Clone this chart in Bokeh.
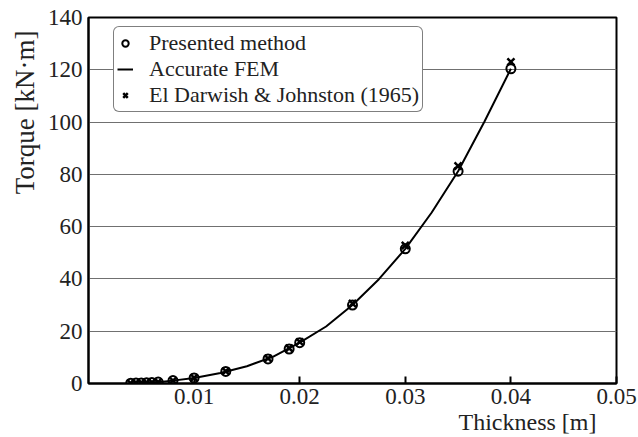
from bokeh.plotting import figure
from bokeh.models import Range1d, FixedTicker, Legend, LegendItem, Title
from bokeh.embed import file_html
from bokeh.resources import INLINE

# Data
thickness = [0.004, 0.0045, 0.005, 0.0055, 0.006, 0.0066, 0.008, 0.010,
             0.013, 0.017, 0.019, 0.020, 0.025, 0.030, 0.035, 0.040]
torque_presented = [0.12, 0.17, 0.23, 0.31, 0.40, 0.55, 1.1, 2.1,
                    4.6, 9.4, 13.2, 15.6, 30.0, 51.5, 81.2, 120.4]
torque_darwish = [0.12, 0.17, 0.23, 0.31, 0.41, 0.56, 1.1, 2.2,
                  4.7, 9.6, 13.5, 15.9, 30.6, 52.8, 83.2, 123.0]

fem_thickness = [0.004, 0.005, 0.006, 0.007, 0.008, 0.010, 0.0125, 0.015,
                 0.0175, 0.020, 0.0225, 0.025, 0.0275, 0.030, 0.0325,
                 0.035, 0.0375, 0.040]
fem_torque = [0.12, 0.23, 0.40, 0.70, 1.1, 2.1, 4.0, 6.6,
              10.3, 15.6, 21.8, 30.0, 39.9, 51.5, 65.4, 81.2, 100.2, 120.4]

x_ticks = [0.01, 0.02, 0.03, 0.04, 0.05]
y_ticks = [0, 20, 40, 60, 80, 100, 120, 140]

x_title = "Thickness [m]"
y_title = "Torque [kN·m]"
series_names = ["Presented method", "Accurate FEM", "El Darwish & Johnston (1965)"]

FONT = "Liberation Serif"
TXT = "#222222"

p = figure(width=638, height=437, output_backend="svg", toolbar_location=None,
           x_range=Range1d(0, 0.05), y_range=Range1d(0, 140),
           min_border_left=88, min_border_right=22, min_border_top=17,
           min_border_bottom=54)

p.background_fill_color = "white"
p.border_fill_color = "white"
p.outline_line_color = "black"
p.outline_line_width = 2

# grid
p.xgrid.grid_line_color = None
p.ygrid.grid_line_color = "#707070"
p.ygrid.grid_line_width = 1
p.ygrid.ticker = FixedTicker(ticks=y_ticks)

# axes
p.xaxis.ticker = FixedTicker(ticks=x_ticks)
p.yaxis.ticker = FixedTicker(ticks=y_ticks)
p.xaxis.major_label_overrides = {t: f"{t:.2f}" for t in x_ticks}
for ax in (p.xaxis[0], p.yaxis[0]):
    ax.axis_line_color = "black"
    ax.axis_line_width = 2
    ax.minor_tick_line_color = None
    ax.major_label_text_font = FONT
    ax.major_label_text_font_size = "23px"
    ax.major_label_text_color = TXT

p.xaxis.major_tick_in = 7
p.xaxis.major_tick_out = 0
p.xaxis.major_tick_line_width = 2
p.xaxis.major_label_standoff = 5
p.yaxis.major_tick_in = 0
p.yaxis.major_tick_out = 0
p.yaxis.major_label_standoff = 6

# axis titles aligned towards the far ends, as in the reference
p.add_layout(Title(text=x_title, align="right", offset=20, standoff=0,
                   text_font=FONT, text_font_size="24px",
                   text_font_style="normal", text_color=TXT), "below")
p.add_layout(Title(text=y_title, align="right", offset=13, standoff=10,
                   text_font=FONT, text_font_size="27px",
                   text_font_style="normal", text_color=TXT), "left")

# glyphs
line_r = p.line(fem_thickness, fem_torque, line_color="black", line_width=2)
circ_r = p.scatter(thickness, torque_presented, marker="circle", size=9,
                   fill_color=None, line_color="black", line_width=2)
x_r = p.scatter(thickness, torque_darwish, marker="x", size=10,
                line_color="black", line_width=2.5)

legend = Legend(items=[
    LegendItem(label=series_names[0], renderers=[circ_r]),
    LegendItem(label=series_names[1], renderers=[line_r]),
    LegendItem(label=series_names[2], renderers=[x_r]),
], location=(25, 271))
legend.label_text_font = FONT
legend.label_text_font_size = "22px"
legend.label_text_color = TXT
legend.label_height = 24
legend.glyph_height = 24
legend.glyph_width = 16
legend.label_standoff = 16
legend.spacing = 0
legend.padding = 3
legend.margin = 0
legend.border_line_color = "black"
legend.border_line_width = 1
legend.background_fill_color = "white"
legend.background_fill_alpha = 1.0
legend.border_radius = 6
p.add_layout(legend, "center")

open("out.html", "w").write(file_html(p, INLINE))
